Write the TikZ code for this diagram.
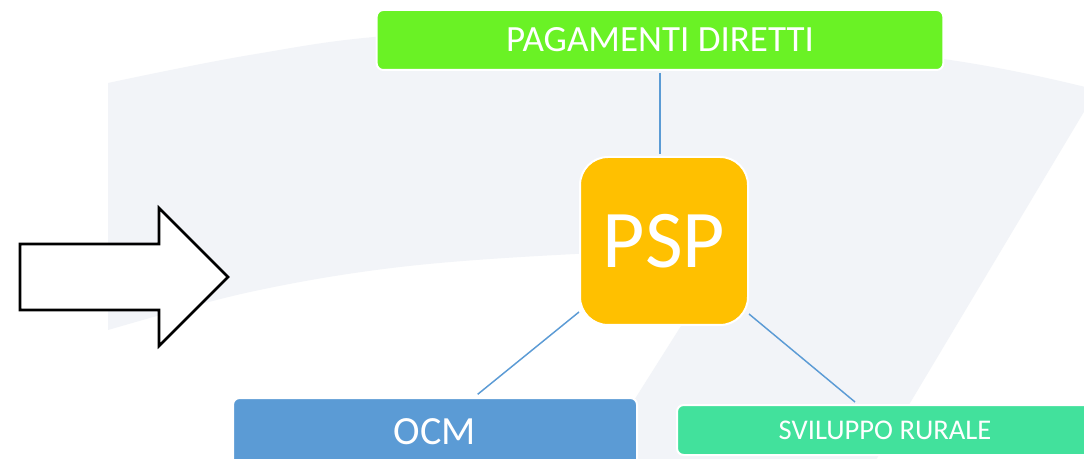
\documentclass[tikz,border=0pt]{standalone}
\usepackage{fontspec}
\setmainfont{Carlito}
\definecolor{bandgray}{RGB}{242,244,248}
\definecolor{pdgreen}{RGB}{106,242,37}
\definecolor{pspgold}{RGB}{255,192,0}
\definecolor{ocmblue}{RGB}{91,155,213}
\definecolor{srgreen}{RGB}{66,225,156}
\definecolor{linkblue}{RGB}{91,155,213}
\tikzset{
  card/.style={draw=white, line width=1.5pt, text=white, inner sep=0pt,
    rounded corners=5pt, align=center},
  link/.style={draw=linkblue, line width=1.1pt},
  bigarrow/.style={draw=black, line width=1.9pt, fill=white, line join=miter}
}
\begin{document}
\begin{tikzpicture}[x=0.75pt,y=-0.75pt]
\useasboundingbox (0,0) rectangle (1084,459);
\clip (0,0) rectangle (1084,459);
\fill[white] (0,0) rectangle (1084,459);

% curved background band
\fill[bandgray]
  plot[smooth, tension=0.6] coordinates {(108,83) (250,55) (400,35) (660,27) (950,60) (1097,90)}
  -- (870,470) -- (590,470) -- (729,250)
  -- plot[smooth, tension=0.6] coordinates {(729,250) (575,254) (400,267) (250,292) (108,330)}
  -- cycle;

% hollow arrow on the left
\draw[bigarrow] (20,244) -- (159,244) -- (159,208) -- (228,277)
  -- (159,346) -- (159,310) -- (20,310) -- cycle;

% boxes
\node[card, fill=pdgreen, minimum width=425pt, minimum height=45pt,
  font=\fontsize{27.75}{32}\selectfont] (pd) at (660,40) {PAGAMENTI DIRETTI};
\node[card, fill=pspgold, minimum width=126pt, minimum height=126pt,
  rounded corners=21pt, font=\fontsize{61.5}{70}\selectfont] (psp) at (664,241) {PSP};
\node[card, fill=ocmblue, minimum width=303pt, minimum height=51pt,
  font=\fontsize{30}{34}\selectfont] (ocm) at (435,432) {OCM};
\node[card, fill=srgreen, minimum width=312pt, minimum height=37.5pt,
  font=\fontsize{21.4}{25}\selectfont] (sr) at (885,430) {SVILUPPO RURALE};

% connectors
\draw[link] ([yshift=-1.5pt]pd.south) -- ([yshift=1.5pt]pd.south |- psp.north);
\draw[link] ([yshift=10.5pt]psp.south west) -- ([xshift=32pt,yshift=2pt]ocm.north);
\draw[link] ([yshift=9pt]psp.south east) -- ([xshift=-22.5pt,yshift=1.5pt]sr.north);
\end{tikzpicture}
\end{document}
